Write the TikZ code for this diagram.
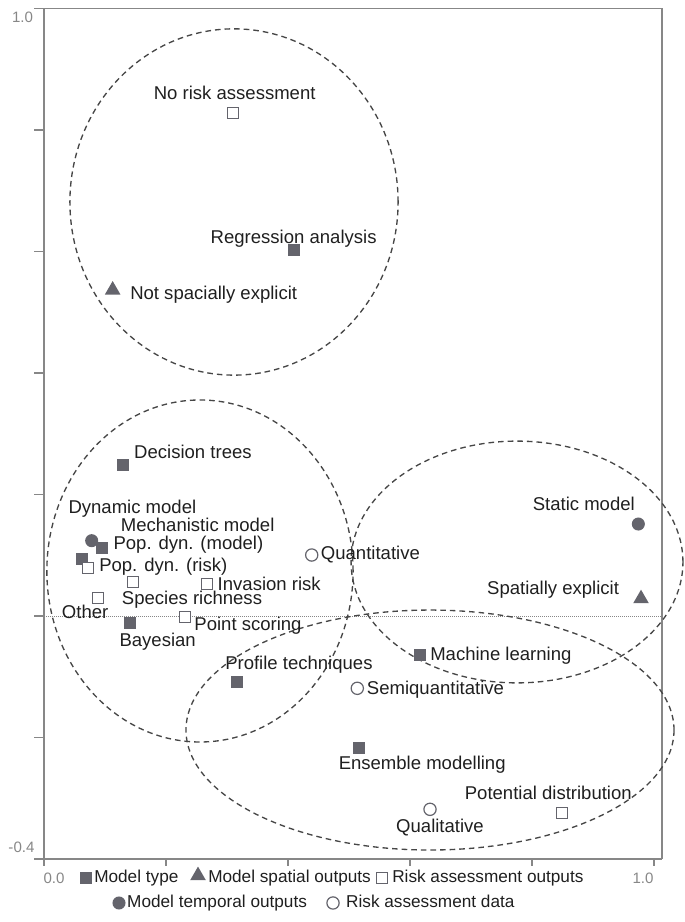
\documentclass[tikz,border=0pt]{standalone}
\usepackage{fontspec}
\setmainfont{Liberation Sans}
\usetikzlibrary{shapes.geometric}
\definecolor{markgray}{RGB}{100,100,108}
\definecolor{axisgray}{RGB}{135,135,135}
\definecolor{ringgray}{RGB}{70,70,70}

\begin{document}
\begin{tikzpicture}[x=457.5pt,y=455.6pt,
    fsq/.style={rectangle,fill=markgray,minimum size=9pt,inner sep=0pt},
    osq/.style={rectangle,draw=markgray,fill=white,line width=0.9pt,minimum size=8.2pt,inner sep=0pt},
    fdot/.style={circle,fill=markgray,minimum size=9.8pt,inner sep=0pt},
    odot/.style={circle,draw=markgray,fill=white,line width=0.9pt,minimum size=9.2pt,inner sep=0pt},
    ftri/.style={regular polygon,regular polygon sides=3,fill=markgray,minimum size=13.5pt,inner sep=0pt},
    lbl/.style={font=\fontsize{13.9}{15}\selectfont,inner sep=0pt,text height=0.72em,text depth=0pt,text=black!88},
    leg/.style={font=\fontsize{12.9}{14}\selectfont,inner sep=0pt,text height=0.72em,text depth=0pt,anchor=west,text=black!88},
    tck/.style={font=\fontsize{11.3}{12}\selectfont,inner sep=0pt,text=axisgray},
    ring/.style={draw=ringgray,dash pattern=on 4.2pt off 3pt,line width=1pt}]
    \useasboundingbox (-0.0721,-0.5037) rectangle (1.0508,1.0140);

    % frame and axes
    \draw[axisgray,line width=1pt] (0,1)--(1.0131,1)--(1.0131,-0.4);
    \draw[axisgray,line width=1.4pt] (0,1)--(0,-0.4)--(1.0131,-0.4);
    \foreach \y in {1,0.8,0.6,0.4,0.2,0,-0.2,-0.4}
        \draw[axisgray,line width=1pt] (-0.016,\y)--(0,\y);
    \foreach \x in {0,0.2,0.4,0.6,0.8,1}
        \draw[axisgray,line width=1pt] (\x,-0.4)--(\x,-0.411);
    \draw[axisgray,line width=0.5pt,densely dotted] (0,0)--(1.0131,0);
    \node[tck] (ytop) at (-0.0352,0.986) {1.0};
    \node[tck] (ybot) at (-0.0369,-0.380) {-0.4};
    \node[tck] (xlft) at (0.0164,-0.4313) {0.0};
    \node[tck] (xrgt) at (0.982,-0.4313) {1.0};

    % groups
    \draw[ring] (0.3115,0.6815) ellipse [x radius=0.269,y radius=0.285];
    \draw[ring] (0.2557,0.0741) ellipse [x radius=0.251,y radius=0.2815];
    \draw[ring] (0.7754,0.0889) ellipse [x radius=0.272,y radius=0.199];
    \draw[ring] (0.6328,-0.1877) ellipse [x radius=0.4,y radius=0.1975];

    % points
    \node[osq] (norisk) at (0.3103,0.8285) {};
    \node[lbl] (norisk-l) at (0.3126,0.8576) {No risk assessment};
    \node[fsq] (regr) at (0.4103,0.6025) {};
    \node[lbl] (regr-l) at (0.4093,0.6217) {Regression analysis};
    \node[ftri] (nonspat) at (0.1126,0.5366) {};
    \node[lbl,anchor=west] (nonspat-l) at (0.141,0.5284) {Not spacially explicit};
    \node[fsq] (dtree) at (0.129,0.2486) {};
    \node[lbl,anchor=west] (dtree-l) at (0.1475,0.2678) {Decision trees};
    \node[fsq] (mech) at (0.0946,0.1124) {};
    \node[fsq] (popm) at (0.0628,0.0933) {};
    \node[fdot] (dyn) at (0.0782,0.124) {};
    \node[lbl,anchor=west] (dyn-l) at (0.0398,0.1773) {Dynamic model};
    \node[lbl,anchor=west] (mech-l) at (0.1257,0.1464) {Mechanistic model};
    \node[lbl,anchor=west] (popm-l) at (0.1136,0.118) {Pop. dyn. (model)};
    \node[osq] (popr) at (0.0726,0.0785) {};
    \node[lbl,anchor=west] (popr-l) at (0.0902,0.0812) {Pop. dyn. (risk)};
    \node[osq] (spec) at (0.1464,0.0565) {};
    \node[lbl,anchor=west] (spec-l) at (0.1274,0.0263) {Species richness};
    \node[osq] (inv) at (0.2667,0.0522) {};
    \node[lbl,anchor=west] (inv-l) at (0.2844,0.0502) {Invasion risk};
    \node[osq] (other) at (0.089,0.0291) {};
    \node[lbl,anchor=west] (other-l) at (0.029,0.0044) {Other};
    \node[osq] (pscore) at (0.2311,-0.0012) {};
    \node[lbl,anchor=west] (pscore-l) at (0.2462,-0.0156) {Point scoring};
    \node[fsq] (bayes) at (0.141,-0.011) {};
    \node[lbl,anchor=west] (bayes-l) at (0.1234,-0.0423) {Bayesian};
    \node[odot] (quant) at (0.4389,0.1004) {};
    \node[lbl,anchor=west] (quant-l) at (0.4536,0.1016) {Quantitative};
    \node[fdot] (static) at (0.9743,0.1514) {};
    \node[lbl,anchor=east] (static-l) at (0.9689,0.1811) {Static model};
    \node[ftri] (spat) at (0.9787,0.0285) {};
    \node[lbl,anchor=east] (spat-l) at (0.9431,0.0428) {Spatially explicit};
    \node[fsq] (mlearn) at (0.6159,-0.0642) {};
    \node[lbl,anchor=west] (mlearn-l) at (0.6328,-0.0653) {Machine learning};
    \node[fsq] (prof) at (0.3159,-0.1081) {};
    \node[lbl,anchor=west] (prof-l) at (0.2967,-0.0795) {Profile techniques};
    \node[odot] (semi) at (0.5136,-0.119) {};
    \node[lbl,anchor=west] (semi-l) at (0.529,-0.1207) {Semiquantitative};
    \node[fsq] (ens) at (0.5164,-0.2178) {};
    \node[lbl] (ens-l) at (0.62,-0.2441) {Ensemble modelling};
    \node[odot] (qual) at (0.6328,-0.3182) {};
    \node[lbl] (qual-l) at (0.6492,-0.3485) {Qualitative};
    \node[osq] (potd) at (0.8487,-0.3248) {};
    \node[lbl] (potd-l) at (0.8267,-0.2947) {Potential distribution};

    % legend
    \node[fsq] (k1) at (0.0689,-0.4313) {};
    \node[leg] (k1-l) at (0.082,-0.4313) {Model type};
    \node[ftri] (k2) at (0.2525,-0.4273) {};
    \node[leg] (k2-l) at (0.2689,-0.4313) {Model spatial outputs};
    \node[osq] (k3) at (0.554,-0.4313) {};
    \node[leg] (k3-l) at (0.5705,-0.4313) {Risk assessment outputs};
    \node[fdot] (k4) at (0.123,-0.4724) {};
    \node[leg] (k4-l) at (0.136,-0.4724) {Model temporal outputs};
    \node[odot] (k5) at (0.4738,-0.4724) {};
    \node[leg] (k5-l) at (0.495,-0.4724) {Risk assessment data};
\end{tikzpicture}
\end{document}
